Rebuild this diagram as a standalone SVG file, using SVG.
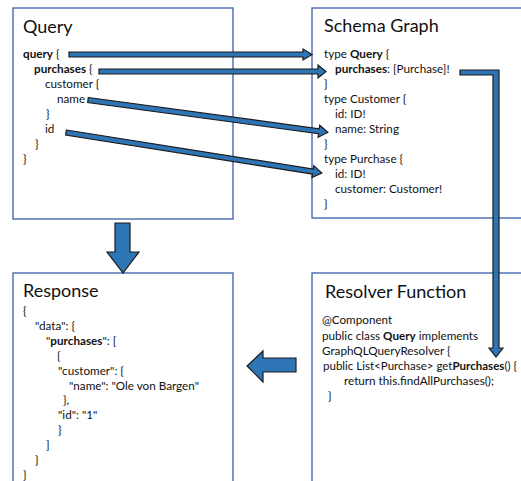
<svg xmlns="http://www.w3.org/2000/svg" width="521" height="481" viewBox="0 0 521 481">
<style>
.box{fill:#fff;stroke:#3a5dae;stroke-width:1.3}
.t{font-family:Lato,"Liberation Sans",sans-serif;fill:#111}
.title{font-size:18px}
.b{font-size:11.7px}
.bold{font-weight:bold}
.arr{fill:#2e75b6;stroke:#1b1b1b;stroke-width:1.2;stroke-linejoin:miter}
</style>
<rect width="521" height="481" fill="#fff"/>
<g id="query">
<rect class="box" x="13" y="8" width="220" height="211"/>
<text class="t title" x="23" y="33">Query</text>
<text class="t b" x="23" y="58"><tspan class="bold">query</tspan> {</text>
<text class="t b" x="34" y="73"><tspan class="bold">purchases</tspan> {</text>
<text class="t b" x="45" y="88">customer {</text>
<text class="t b" x="57" y="103">name</text>
<text class="t b" x="46" y="118">}</text>
<text class="t b" x="45" y="133">id</text>
<text class="t b" x="35" y="148">}</text>
<text class="t b" x="23" y="163">}</text>
</g>
<g id="schema">
<rect class="box" x="312" y="8" width="230" height="210"/>
<text class="t title" x="324" y="32">Schema Graph</text>
<text class="t b" x="324" y="58">type <tspan class="bold">Query</tspan> {</text>
<text class="t b" x="335" y="73"><tspan class="bold">purchases</tspan>: [Purchase]!</text>
<text class="t b" x="324" y="88">}</text>
<text class="t b" x="324" y="103">type Customer {</text>
<text class="t b" x="335" y="118">id: ID!</text>
<text class="t b" x="335" y="133">name: String</text>
<text class="t b" x="324" y="148">}</text>
<text class="t b" x="324" y="163">type Purchase {</text>
<text class="t b" x="335" y="178">id: ID!</text>
<text class="t b" x="335" y="193">customer: Customer!</text>
<text class="t b" x="324" y="208">}</text>
</g>
<g id="response">
<rect class="box" x="13" y="273" width="220" height="230"/>
<text class="t title" x="23" y="297">Response</text>
<text class="t b" x="23" y="315">{</text>
<text class="t b" x="35" y="330">"data": {</text>
<text class="t b" x="46" y="345">"<tspan class="bold">purchases</tspan>": [</text>
<text class="t b" x="57" y="360">{</text>
<text class="t b" x="58" y="375">"customer": {</text>
<text class="t b" x="69" y="390">"name": "Ole von Bargen"</text>
<text class="t b" x="63" y="404">},</text>
<text class="t b" x="58" y="419">"id": "1"</text>
<text class="t b" x="58" y="434">}</text>
<text class="t b" x="46" y="449">]</text>
<text class="t b" x="35" y="464">}</text>
<text class="t b" x="23" y="479">}</text>
</g>
<g id="resolver">
<rect class="box" x="312" y="273" width="230" height="230"/>
<text class="t title" x="325" y="298">Resolver Function</text>
<text class="t b" x="322" y="324">@Component</text>
<text class="t b" x="322" y="340">public class <tspan class="bold">Query</tspan> implements</text>
<text class="t b" x="322" y="355">GraphQLQueryResolver {</text>
<text class="t b" x="323" y="370" textLength="194" lengthAdjust="spacingAndGlyphs">public List&lt;Purchase&gt; get<tspan class="bold">Purchases</tspan>() {</text>
<text class="t b" x="344" y="385">return this.findAllPurchases();</text>
<text class="t b" x="328" y="400">}</text>
</g>
<g id="connectors">
<polygon class="arr" points="69,52 303,52 303,49 312,54.5 303,60 303,57 69,57"/>
<polygon class="arr" points="99,69 318,69 318,65 326,71.5 318,78 318,74 99,74"/>
<polygon class="arr" transform="translate(88,100) rotate(7.71)" points="0,-2.5 233,-2.5 233,-6 242,0 233,6 233,2.5 0,2.5"/>
<polygon class="arr" transform="translate(66,132.5) rotate(8.99)" points="0,-2.5 250,-2.5 250,-6 259,0 250,6 250,2.5 0,2.5"/>
<polygon class="arr" points="460,70 499,70 499,348 503,348 496,357 489,348 493,348 493,75 460,75"/>
<polygon class="arr" points="115,223 130,223 130,252 139,252 123,273 107,252 115,252"/>
<polygon class="arr" points="296,358 263,358 263,351 247,366 263,382 263,372 296,372"/>
</g>
</svg>
